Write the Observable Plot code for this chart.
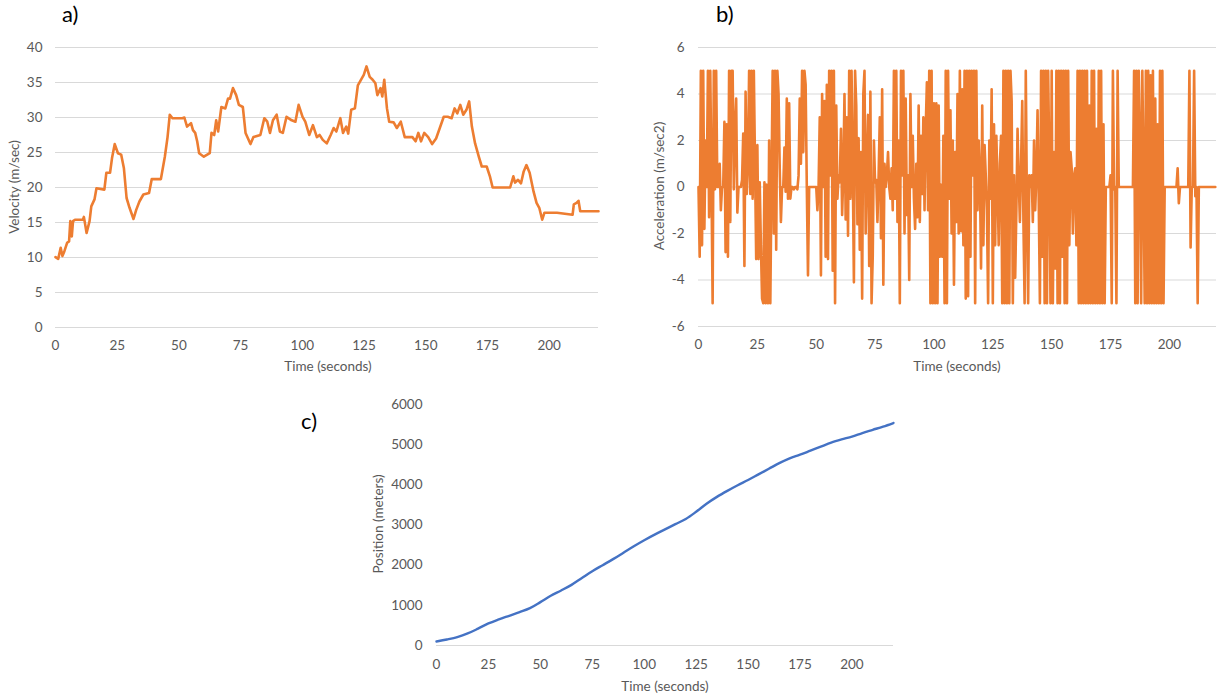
<!DOCTYPE html>
<html>
<head>
<meta charset="utf-8">
<script src="https://cdn.jsdelivr.net/npm/d3@7"></script>
<script src="https://cdn.jsdelivr.net/npm/@observablehq/plot@0.6"></script>
<style>
  html, body { margin: 0; padding: 0; background: #fff; }
  #root { position: relative; width: 1217px; height: 698px; overflow: hidden; background: #fff; font-family: Lato, "Open Sans", sans-serif; }
  .panel { position: absolute; }
  .lbl { position: absolute; font-size: 22px; color: #000; line-height: 1; white-space: nowrap; }
  .ttl { position: absolute; font-size: 13.5px; color: #595959; line-height: 1; white-space: nowrap; transform: translate(-50%, -50%); }
  .ttl.rot { transform: translate(-50%, -50%) rotate(-90deg); }
</style>
</head>
<body>
<div id="root">
  <div class="panel" id="pa" style="left:0px;top:0px"></div>
  <div class="panel" id="pb" style="left:610px;top:0px"></div>
  <div class="panel" id="pc" style="left:290px;top:380px"></div>
  <div class="lbl" style="left:62px;top:3px">a)</div>
  <div class="lbl" style="left:716px;top:3px">b)</div>
  <div class="lbl" style="left:301px;top:410px">c)</div>
  <div class="ttl" style="left:328px;top:367px">Time (seconds)</div>
  <div class="ttl" style="left:957px;top:367px">Time (seconds)</div>
  <div class="ttl" style="left:665px;top:687px">Time (seconds)</div>
  <div class="ttl rot" style="left:15px;top:187px">Velocity (m/sec)</div>
  <div class="ttl rot" style="left:660px;top:186px">Acceleration (m/sec2)</div>
  <div class="ttl rot" style="left:379px;top:524px">Position (meters)</div>
</div>
<script>
// ---------- data ----------
const timeTicks = [0, 25, 50, 75, 100, 125, 150, 175, 200];
const velTicks = [0, 5, 10, 15, 20, 25, 30, 35, 40];
const accTicks = [-6, -4, -2, 0, 2, 4, 6];
const posTicks = [0, 1000, 2000, 3000, 4000, 5000, 6000];

// velocity (m/sec)
const velTime = [0,1.1,2.1,2.8,3.6,4.7,5.5,6,6.6,7.1,7.9,11.1,11.5,12.6,13.8,14.5,15.8,16.6,19.8,20.6,22.1,22.9,24,25.3,26.6,27.7,28.8,30,31.6,32.7,34,35.6,37.9,39,42.7,44.3,45.4,46.3,47.4,51.4,52.2,53.3,54.9,55.7,56.6,57.4,58.2,60.1,62.5,63.2,64.3,65.1,65.9,67.2,68.8,69.9,70.7,71.9,73.2,74.3,75.9,77,79,80.2,83,84.6,85.8,86.9,88.1,89.6,90.9,92.1,93.6,95.7,97.2,98.5,100.1,101.2,102.8,104.3,105.9,107,108.3,109.9,111.5,112.7,113.8,115.4,116.5,117.8,118.6,119.8,121.3,122.5,124.1,124.9,126,127.3,128.5,129.6,130.4,131.7,132.4,133.2,134.3,135.2,137,138.3,139.9,141.5,144.6,145.9,147,148.1,149.4,151,152.6,154.2,155.7,157.3,158.9,160.5,161.7,162.8,164,165.2,166.5,167.6,168.7,170,171.5,172.7,174.7,176,177.1,184.2,185.5,186.2,187.4,188.6,189.7,190.8,192.1,193.7,194.9,196,197.2,198.1,203.2,209.5,210,211.1,211.9,212.6,220];
const velocity = [10.06,9.8,11.4,10.2,10.9,12.1,12.3,15.2,13.0,15.2,15.4,15.4,15.8,13.5,15.2,17.3,18.3,19.9,19.7,22.1,22.1,24.2,26.2,24.9,24.7,22.8,18.5,17.1,15.5,16.8,18.0,19.0,19.2,21.2,21.2,24.4,27.2,30.4,29.9,29.9,30.0,28.7,29.2,28.2,27.8,26.6,24.9,24.4,24.9,27.8,27.5,29.6,28.0,31.5,31.3,32.7,32.7,34.2,33.2,31.8,31.5,27.8,26.2,27.2,27.5,29.9,29.4,27.8,29.6,30.4,28.0,27.8,30.1,29.6,29.4,31.8,30.1,29.4,27.5,28.9,27.2,27.5,26.8,26.3,27.5,28.5,28.0,29.9,27.8,28.7,27.7,31.1,31.3,34.6,35.6,36.1,37.3,35.8,35.4,34.9,33.2,34.2,33.0,35.4,31.3,29.4,29.3,28.5,29.4,27.2,27.2,26.6,27.8,26.6,27.8,27.2,26.2,27.0,28.5,30.1,30.1,29.9,31.3,30.6,31.8,30.4,31.1,32.3,28.7,26.3,24.4,23.0,23.0,21.6,20.0,20.0,21.6,20.7,21.1,20.6,22.3,23.2,22.1,19.4,17.8,17.1,15.4,16.4,16.4,16.1,17.6,17.8,18.1,16.6,16.6];

// acceleration (m/sec2), one value every 0.5 s starting at 0 s
const accelStep = 0.5;
const acceleration = [
  0,-3,5,-2.5,5,-1.8,2,0,5,-1.3,5,0.3,-5,5,-0.1,5,0,0,1,-1,
  0,0,2.8,-2.8,2.7,-3,5,-1.5,5,5,-0.1,2.5,3.8,-1.1,0,0,0,0.3,2.3,-3.4,
  4.1,-0.3,1,5,-0.3,5,-0.5,5,1,-3.1,1.8,-3.1,0.2,-2.5,-4.8,-5,0.2,-5,0.1,-5,
  2,-5,0.2,5,-2,5,-2.7,5,4,0.8,-1.5,0,0,1.7,-0.2,3.8,-0.5,3.6,-0.5,0,
  0,-0.1,0,0,-0.1,0.5,3.8,1,5,1.5,5,4.4,0,-3.8,0,0,0,0,0,0,
  0,-1,0,3,-3.8,4,0,3.7,-3,4.4,-3.1,5,0.5,5,-3.6,5,-5,3.5,-0.5,0.5,
  0.2,2.5,-1.2,0.5,4,-1.4,3,-2.1,5,-0.5,5,1,-4.1,5,3.5,-1.6,2.1,-2.7,1.5,-4.8,
  4,5,-2,1,3.1,-3.4,4.1,-5,-3,2,0.2,0.3,-1.5,0.5,3,-2.2,4.2,-4.2,1,0,
  0.5,1.5,0,-0.5,0.8,-1,5,-0.5,5,-1.5,2,-5,5,0.5,5,-2,3.8,-1.2,0.5,-4,
  4,0,2.2,-0.5,-1.8,1,-1.3,3.5,-1.5,2.2,-0.3,3,-1,2.5,4.5,-1,5,-5,5,-5,
  3.6,-5,3.6,-5,3.5,-3,0.1,-3,2.2,-5,5,-5,5,-0.5,3.3,-2,2,-4.2,1.5,-1.5,
  4,-2,5,-1.9,4.2,-2.5,5,-4.8,5,-4.7,5,-3,5,0.5,5,-5,5,-1,2,0.5,
  -3.5,3.5,-2.5,1.8,0.5,-1,-5,2,-0.5,4.2,-5,2.7,-2.5,2.2,0,-2.5,1,2.2,-5,5,
  -5,5,-5,5,-5,5,3.7,-5,0.5,-3.9,-1,2.5,0.3,-1.5,1,3.7,-1.5,-5,5,-1,
  -5,0.5,0,0.5,-1.5,2,-1,0.5,3.3,-0.6,-5,5,-3,5,-5,5,-5,5,1,-5,
  5,-5,1.5,-3.5,5,-5,5,-5,5,-3,5,-5,5,-5,5,-2.5,1.5,0.8,-2,0.5,
  0.8,-2.5,5,-5,5,-5,5,-5,5,-5,5,-5,3.5,-5,5,-5,5,-5,2.5,-5,
  5,-5,5,-5,2.7,-5,0,0,0,0,0.5,-5,5,-0.1,0,-5,5,0,0,0,
  0,0,0,0,0,0,0,0,0,0,5,-5,5,-5,5,2,-5,5,0.5,-5,
  5,-5,5,-5,4.8,-5,5,-5,3.8,-5,2.7,-5,5,-5,5,-5,0,0,0,0,
  0,0,0,0,0,0,0,0.8,-0.7,0,0,0,0,0,0,0,0,5,-2.6,0,
  0,5,-0.4,0,-5,0,0,0,0,0,0,0,0,0,0,0,0,0,0,0
];

// position (meters)
const posTime = [0,5,10,15,20,25,30,35,40,45,50,55,60,65,70,75,80,85,90,95,100,105,110,115,120,125,130,135,140,145,150,155,160,165,170,175,180,185,190,195,200,205,210,215,220];
const position = [100,150,210,300,420,550,650,740,830,930,1080,1240,1370,1510,1680,1850,2000,2150,2310,2470,2620,2760,2890,3020,3150,3330,3530,3700,3850,3990,4120,4260,4400,4540,4660,4750,4850,4950,5050,5130,5200,5290,5370,5450,5540];

// ---------- tables ----------
const velData = velTime.map((t, i) => ({t, v: velocity[i]}));
const accData = acceleration.map((a, i) => ({t: i * accelStep, a}));
const posData = posTime.map((t, i) => ({t, p: position[i]}));

const ORANGE = "#ED7D31";
const BLUE = "#4472C4";
const GRID = "#d9d9d9";
const plain = d => String(d);
const style = {fontFamily: "Lato, 'Open Sans', sans-serif", fontSize: "13.5px", color: "#595959", background: "transparent", overflow: "visible"};

// ---------- panel a ----------
const pa = Plot.plot({
  width: 610, height: 377,
  marginLeft: 55, marginRight: 12, marginTop: 47, marginBottom: 50,
  style,
  x: {domain: [0, 220]},
  y: {domain: [0, 40]},
  marks: [
    Plot.gridY(velTicks, {stroke: GRID, strokeOpacity: 1, strokeWidth: 1}),
    Plot.axisY(velTicks, {tickSize: 0, tickPadding: 13, label: null, tickFormat: plain}),
    Plot.axisX(timeTicks, {tickSize: 0, tickPadding: 13, label: null, tickFormat: plain}),
    Plot.line(velData, {x: "t", y: "v", stroke: ORANGE, strokeWidth: 2.6, strokeLinejoin: "round"})
  ]
});
document.getElementById("pa").appendChild(pa);

// ---------- panel b ----------
const pb = Plot.plot({
  width: 607, height: 376,
  marginLeft: 88, marginRight: 1, marginTop: 47, marginBottom: 50,
  style,
  x: {domain: [0, 220]},
  y: {domain: [-6, 6]},
  marks: [
    Plot.gridY(accTicks, {stroke: GRID, strokeOpacity: 1, strokeWidth: 1}),
    Plot.axisY(accTicks, {tickSize: 0, tickPadding: 14, label: null, tickFormat: plain}),
    Plot.axisX(timeTicks, {tickSize: 0, tickPadding: 13, label: null, tickFormat: plain}),
    Plot.line(accData, {x: "t", y: "a", stroke: ORANGE, strokeWidth: 2.6, strokeLinejoin: "round"})
  ]
});
document.getElementById("pb").appendChild(pb);

// ---------- panel c ----------
const pc = Plot.plot({
  width: 620, height: 318,
  marginLeft: 146, marginRight: 17, marginTop: 24, marginBottom: 53,
  style,
  x: {domain: [0, 220]},
  y: {domain: [0, 6000]},
  marks: [
    Plot.ruleY([0], {stroke: GRID, strokeWidth: 1}),
    Plot.axisY(posTicks, {tickSize: 0, tickPadding: 14, label: null, tickFormat: plain}),
    Plot.axisX(timeTicks, {tickSize: 0, tickPadding: 14, label: null, tickFormat: plain}),
    Plot.line(posData, {x: "t", y: "p", stroke: BLUE, strokeWidth: 2.4, curve: "monotone-x"})
  ]
});
document.getElementById("pc").appendChild(pc);
</script>
</body>
</html>
